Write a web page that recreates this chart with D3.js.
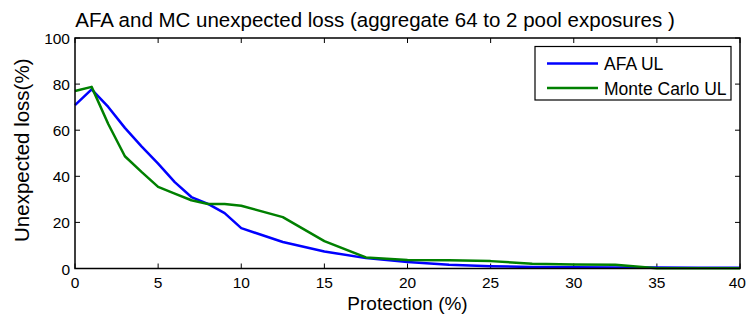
<!DOCTYPE html>
<html><head><meta charset="utf-8">
<script src="https://cdn.jsdelivr.net/npm/d3@7"></script>
<style>body{margin:0;background:#fff}svg{display:block;font-family:"Liberation Sans",Arial,sans-serif}</style>
</head><body>
<script>
const protection = [0,1,2,3,4,5,6,7,8,9,10,12.5,15,17.5,20,22.5,25,27.5,30,32.5,35,37.5,40];
const afaUL = [70.9,77.7,70.1,61,53,45.5,37.5,31,28,24,17.5,11.5,7.4,4.5,2.8,1.6,1.0,0.7,0.5,0.4,0.4,0.3,0.3];
const mcUL  = [77,78.8,62.7,48.7,41.9,35.4,32.5,29.6,28,28,27.2,22.3,11.9,4.8,3.7,3.6,3.2,2.1,1.7,1.6,0.1,0.1,0.1];
const xTicks = [0,5,10,15,20,25,30,35,40];
const yTicks = [0,20,40,60,80,100];
const seriesNames = ["AFA UL","Monte Carlo UL"];
const seriesColors = ["#0000ff","#008000"];

const W=747,H=321, L=75, R=740, T=38, B=268.5;
const svg=d3.select("body").append("svg").attr("width",W).attr("height",H);
const x=d3.scaleLinear().domain([0,40]).range([L,R]);
const y=d3.scaleLinear().domain([0,100]).range([B,T]);

const tl=5;
const g=svg.append("g");
xTicks.forEach(v=>{
  g.append("line").attr("x1",x(v)).attr("x2",x(v)).attr("y1",B).attr("y2",B-tl).attr("stroke","#000");
  g.append("line").attr("x1",x(v)).attr("x2",x(v)).attr("y1",T).attr("y2",T+tl).attr("stroke","#000");
  const t=g.append("text").attr("y",288).attr("font-size",15.5).text(v);
  if (x(v)+9 > W-1) t.attr("x",W-1).attr("text-anchor","end");
  else t.attr("x",x(v)).attr("text-anchor","middle");
});
yTicks.forEach(v=>{
  g.append("line").attr("x1",L).attr("x2",L+tl).attr("y1",y(v)).attr("y2",y(v)).attr("stroke","#000");
  g.append("line").attr("x1",R).attr("x2",R-tl).attr("y1",y(v)).attr("y2",y(v)).attr("stroke","#000");
  g.append("text").attr("x",70).attr("y",y(v)+6).attr("text-anchor","end").attr("font-size",15.5).text(v);
});

const line=d3.line().x((d,i)=>x(protection[i])).y(d=>y(d));
[afaUL,mcUL].forEach((s,k)=>{
  svg.append("path").datum(s).attr("d",line).attr("fill","none").attr("stroke",seriesColors[k]).attr("stroke-width",2.5).attr("stroke-linejoin","round");
});

svg.append("rect").attr("x",L).attr("y",T).attr("width",R-L).attr("height",B-T).attr("fill","none").attr("stroke","#000").attr("stroke-width",1.5);

const lg=svg.append("g");
lg.append("rect").attr("x",535).attr("y",46.5).attr("width",196).attr("height",53.5).attr("fill","#fff").attr("stroke","#000").attr("stroke-width",1.2);
seriesNames.forEach((n,k)=>{
  const yy=63.5+k*24.5;
  lg.append("line").attr("x1",547).attr("x2",598).attr("y1",yy).attr("y2",yy).attr("stroke",seriesColors[k]).attr("stroke-width",2.5);
  lg.append("text").attr("x",604).attr("y",yy+6.5).attr("font-size",17.5).text(n);
});

svg.append("text").attr("x",375).attr("y",27).attr("text-anchor","middle").attr("font-size",20.5).text("AFA and MC unexpected loss (aggregate 64 to 2 pool exposures )");
svg.append("text").attr("x",(L+R)/2).attr("y",310).attr("text-anchor","middle").attr("font-size",19).text("Protection (%)");
svg.append("text").attr("transform",`translate(29,${(T+B)/2 - 3}) rotate(-90)`).attr("text-anchor","middle").attr("font-size",20.5).text("Unexpected loss(%)");
</script>
</body></html>
